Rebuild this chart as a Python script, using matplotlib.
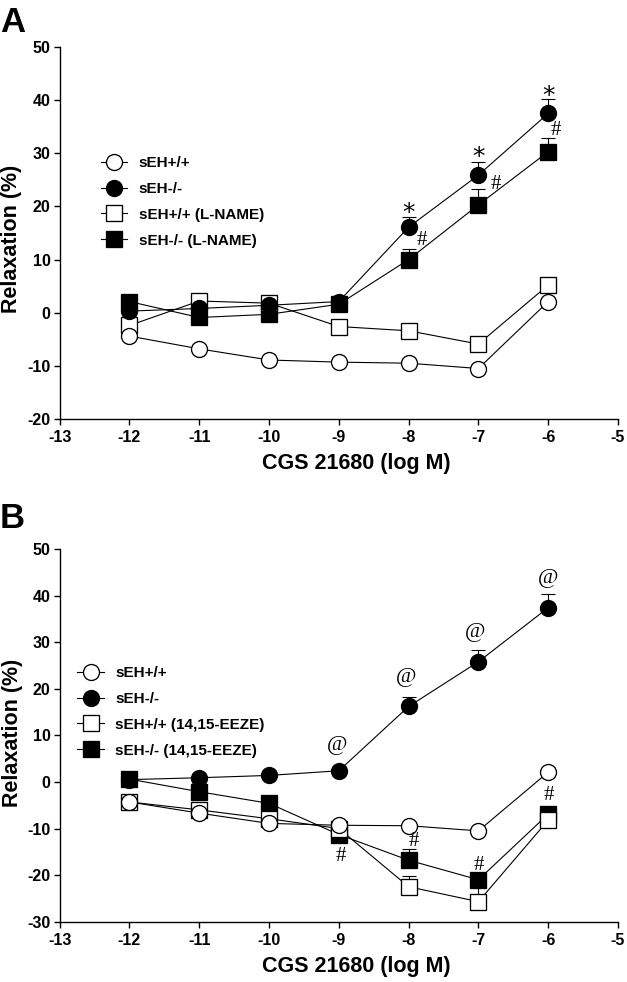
import matplotlib
matplotlib.use("Agg")
import matplotlib.pyplot as plt
import numpy as np

# ---------------- data ----------------
log_conc = [-12, -11, -10, -9, -8, -7, -6]

# Panel A
wt_A = [-4.4, -6.8, -8.9, -9.3, -9.5, -10.5, 2.1]
ko_A = [0.3, 0.8, 1.4, 2.1, 16.1, 25.9, 37.5]
ko_A_sem = [0, 0, 0, 0, 2.0, 2.4, 2.7]
wt_lname = [-2.4, 2.2, 1.8, -2.6, -3.4, -5.9, 5.2]
ko_lname = [2.1, -0.9, -0.3, 1.6, 10.0, 20.3, 30.3]
ko_lname_sem = [0, 0, 0, 0, 2.0, 3.0, 2.5]

# Panel B
wt_B = [-4.3, -6.7, -8.9, -9.3, -9.4, -10.5, 2.1]
ko_B = [0.5, 0.9, 1.4, 2.4, 16.2, 25.8, 37.4]
ko_B_sem = [0, 0, 0, 0, 2.0, 2.5, 2.9]
wt_eeze = [-4.3, -6.0, -7.9, -10.0, -22.5, -25.7, -8.2]
wt_eeze_sem = [0, 0, 0, 0, 2.3, 3.5, 0]
ko_eeze = [0.6, -2.1, -4.6, -11.3, -16.8, -21.0, -6.9]
ko_eeze_sem = [0, 0, 0, 0, 2.3, 1.2, 0]

# significance annotations (x, ink-centre y)
star_A = [(-8, 20.1), (-7, 30.6), (-6, 42.1)]
hash_A = [(-7.81, 14.0), (-6.75, 24.7), (-5.89, 34.7)]
at_B = [(-9.02, 7.9), (-8.04, 22.6), (-7.05, 32.3), (-6.0, 43.7)]
hash_B = [(-8.97, -15.5), (-7.93, -12.3), (-7.0, -17.3), (-5.99, -2.4)]

labels_A = ["sEH+/+", "sEH-/-", "sEH+/+ (L-NAME)", "sEH-/- (L-NAME)"]
labels_B = ["sEH+/+", "sEH-/-", "sEH+/+ (14,15-EEZE)", "sEH-/- (14,15-EEZE)"]
xticks = [-13, -12, -11, -10, -9, -8, -7, -6, -5]
yticks_A = [-20, -10, 0, 10, 20, 30, 40, 50]
yticks_B = [-30, -20, -10, 0, 10, 20, 30, 40, 50]
xlabel = "CGS 21680 (log M)"
ylabel = "Relaxation (%)"

# ---------------- style ----------------
plt.rcParams['font.family'] = ['Liberation Sans', 'DejaVu Sans']
plt.rcParams['font.weight'] = 'bold'

W, H = 627, 982
fig = plt.figure(figsize=(W / 100, H / 100), dpi=100)

def fx(px):
    return px / W

def fy(py):
    return 1 - py / H

axA = fig.add_axes([fx(59.7), fy(419), fx(618) - fx(59.7), fy(47) - fy(419)])
axB = fig.add_axes([fx(59.7), fy(921.7), fx(618) - fx(59.7), fy(549) - fy(921.7)])

MS = 11.5
MEW = 0.95
LW = 0.8


def draw_series(ax, y, sem, marker, face, z, label):
    if sem is not None:
        ax.errorbar(log_conc, y, yerr=[np.zeros(len(sem)), sem], fmt='none',
                    ecolor='black', elinewidth=LW, capsize=5.3, capthick=LW,
                    zorder=1)
    ax.plot(log_conc, y, color='black', lw=LW, marker=marker, ms=MS,
            mfc=face, mec='black', mew=MEW, zorder=z, label=label)


def style_axes(ax, yticks):
    ax.set_xlim(-13, -5)
    ax.set_ylim(yticks[0], yticks[-1])
    ax.set_xticks(xticks)
    ax.set_yticks(yticks)
    ax.set_xticklabels([str(t) for t in xticks])
    ax.set_yticklabels([str(t) for t in yticks])
    for s in ['top', 'right']:
        ax.spines[s].set_visible(False)
    for s in ['left', 'bottom']:
        ax.spines[s].set_linewidth(1.0)
    ax.tick_params(direction='out', length=4.3, width=1.0, labelsize=11.5)
    ax.tick_params(axis='x', pad=3.5)
    ax.tick_params(axis='y', pad=2.2)
    for lab in ax.get_xticklabels() + ax.get_yticklabels():
        lab.set_fontweight('bold')
    ax.set_xlabel(xlabel, fontsize=15.5, fontweight='bold')
    ax.set_ylabel(ylabel, fontsize=15.5, fontweight='bold')


def annotate(ax, pts, sym, fam, fs, c):
    for x, y in pts:
        ax.annotate(sym, xy=(x, y), xytext=(0, -c * fs), textcoords='offset points',
                    ha='center', va='baseline', fontsize=fs, family=fam,
                    fontweight='normal', zorder=10)

# Panel A
draw_series(axA, ko_lname, ko_lname_sem, 's', 'black', 3, labels_A[3])
draw_series(axA, wt_lname, None, 's', 'white', 4, labels_A[2])
draw_series(axA, ko_A, ko_A_sem, 'o', 'black', 5, labels_A[1])
draw_series(axA, wt_A, None, 'o', 'white', 6, labels_A[0])
style_axes(axA, yticks_A)
annotate(axA, star_A, '*', ['DejaVu Sans'], 18, 0.55)
annotate(axA, hash_A, '#', ['Liberation Serif'], 15, 0.34)

# Panel B
draw_series(axB, ko_eeze, ko_eeze_sem, 's', 'black', 3, labels_B[3])
draw_series(axB, wt_eeze, wt_eeze_sem, 's', 'white', 4, labels_B[2])
draw_series(axB, ko_B, ko_B_sem, 'o', 'black', 5, labels_B[1])
draw_series(axB, wt_B, None, 'o', 'white', 6, labels_B[0])
style_axes(axB, yticks_B)
annotate(axB, at_B, '@', ['Liberation Serif'], 16, 0.23)
annotate(axB, hash_B, '#', ['Liberation Serif'], 15, 0.34)

# label positions
axA.xaxis.set_label_coords(0.531, -0.092)
axA.xaxis.label.set_va('top')
axB.xaxis.set_label_coords(0.531, -0.092)
axB.xaxis.label.set_va('top')
axA.yaxis.set_label_coords(-0.087, 0.484)
axA.yaxis.label.set_va('center')
axB.yaxis.set_label_coords(-0.085, 0.506)
axB.yaxis.label.set_va('center')


def add_legend(ax, labels, left_px, top_px):
    handles, labs = ax.get_legend_handles_labels()
    order = [labs.index(l) for l in labels]
    leg = ax.legend([handles[i] for i in order], [labs[i] for i in order],
                    loc='upper left', bbox_to_anchor=(fx(left_px), fy(top_px)),
                    bbox_transform=fig.transFigure, frameon=False,
                    borderpad=0, borderaxespad=0, handlelength=1.75,
                    handletextpad=0.75, labelspacing=0.78,
                    prop={'weight': 'bold', 'size': 11})
    return leg

add_legend(axA, labels_A, 100.7, 156)
add_legend(axB, labels_B, 77.3, 666)

# panel letters
fig.text(fx(0), fy(32), 'A', fontsize=25, fontweight='bold', ha='left', va='baseline')
fig.text(fx(0), fy(528), 'B', fontsize=25, fontweight='bold', ha='left', va='baseline')

fig.savefig('out.png', dpi=100)
